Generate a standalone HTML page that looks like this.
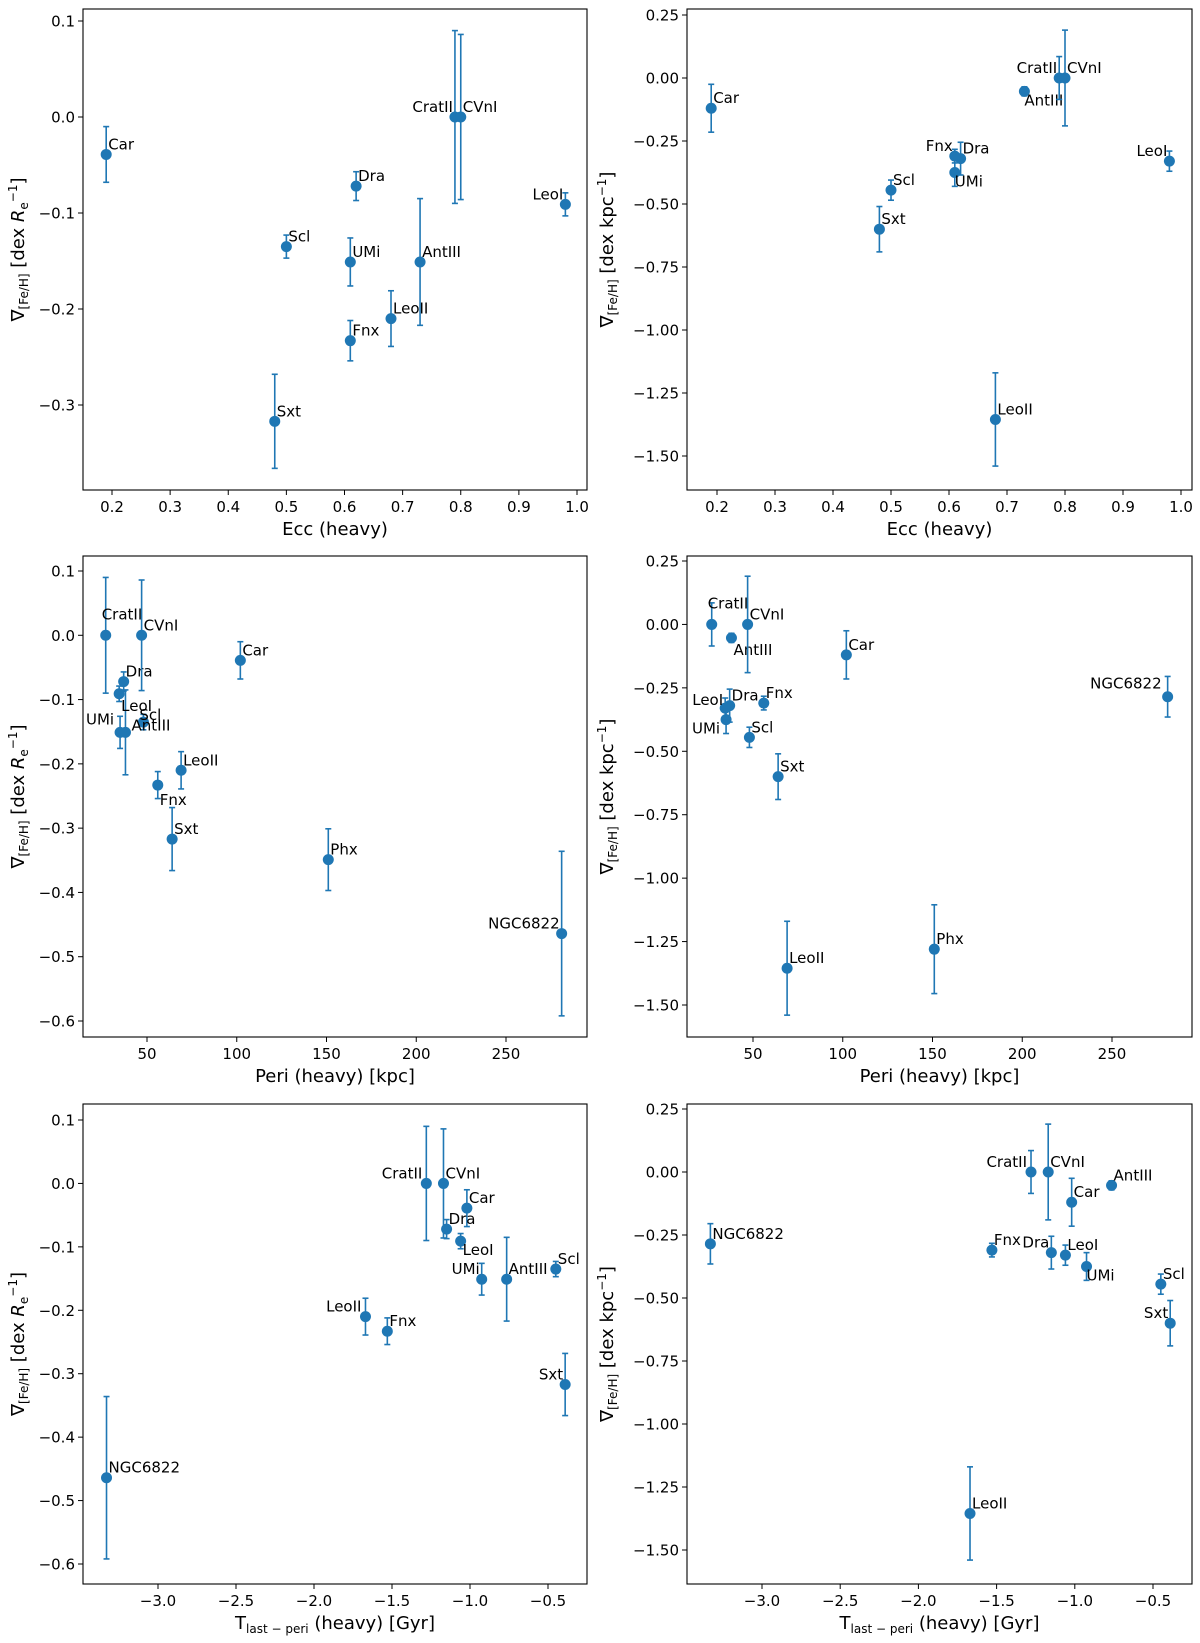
<!DOCTYPE html>
<html><head><meta charset="utf-8"><style>
html,body{margin:0;padding:0;background:#fff;}
svg{display:block;font-family:"DejaVu Sans","Liberation Sans",sans-serif;}
</style></head><body>
<svg id="fig" width="1200" height="1643" viewBox="0 0 1200 1643" xmlns="http://www.w3.org/2000/svg"></svg>
<script>
const names = ["Car","Dra","Scl","UMi","AntIII","LeoII","Fnx","Sxt","CratII","CVnI","LeoI","Phx","NGC6822"];
const ecc = [0.19,0.62,0.50,0.61,0.73,0.68,0.61,0.48,0.79,0.80,0.98,null,null];
const peri = [102,37,48,35,38,69,56,64,27,47,34.5,151,281];
const tlast = [-1.02,-1.15,-0.45,-0.925,-0.765,-1.67,-1.53,-0.39,-1.28,-1.17,-1.06,null,-3.33];
const gradRe = [-0.039,-0.072,-0.135,-0.151,-0.151,-0.210,-0.233,-0.317,0.0,0.0,-0.091,-0.349,-0.464];
const errRe = [0.029,0.015,0.012,0.025,0.066,0.029,0.021,0.049,0.090,0.086,0.012,0.048,0.128];
const gradKpc = [-0.12,-0.32,-0.445,-0.375,-0.053,-1.355,-0.31,-0.60,0.0,0.0,-0.33,-1.28,-0.285];
const errKpc = [0.095,0.065,0.04,0.055,0.018,0.185,0.027,0.09,0.085,0.19,0.04,0.175,0.08];
const eccTicks = [0.2,0.3,0.4,0.5,0.6,0.7,0.8,0.9,1.0];
const periTicks = [50,100,150,200,250];
const tTicks = [-3.0,-2.5,-2.0,-1.5,-1.0,-0.5];
const reTicks = [0.1,0.0,-0.1,-0.2,-0.3,-0.4,-0.5,-0.6];
const kpcTicks = [0.25,0.0,-0.25,-0.5,-0.75,-1.0,-1.25,-1.5];

const NS="http://www.w3.org/2000/svg";
const svg=document.getElementById('fig');
const C="#1f77b4";
function el(tag,attrs,parent){const e=document.createElementNS(NS,tag);for(const k in attrs)e.setAttribute(k,attrs[k]);(parent||svg).appendChild(e);return e;}
function lin(d0,p0,d1,p1){return v=>p0+(v-d0)*(p1-p0)/(d1-d0);}
function fmt(v,dec){const s=Math.abs(v).toFixed(dec);return (v<0?"\u2212":"")+s;}

const panels=[
 {id:"ecc-re",box:[83,9,587,490],xs:lin(0.2,112,1.0,577),ys:lin(0.1,21,-0.3,405),xv:ecc,yv:gradRe,ev:errRe,xt:eccTicks,xd:1,yt:reTicks.slice(0,5),yd:1,xl:"Ecc (heavy)",yl:"re",
  off:{CratII:[-2,-5,"end"],LeoI:[-2,-5,"end"]}},
 {id:"ecc-kpc",box:[687,9,1192,490],xs:lin(0.2,717,1.0,1181),ys:lin(0.25,15,-1.5,456),xv:ecc,yv:gradKpc,ev:errKpc,xt:eccTicks,xd:1,yt:kpcTicks,yd:2,xl:"Ecc (heavy)",yl:"kpc",
  off:{CratII:[-2,-5,"end"],LeoI:[-2,-5,"end"],Fnx:[-2,-5,"end"],AntIII:[0,14,"start"],UMi:[0,14,"start"]}},
 {id:"peri-re",box:[83,556,587,1037],xs:lin(50,147,250,506),ys:lin(0.1,571,-0.6,1021),xv:peri,yv:gradRe,ev:errRe,xt:periTicks,xd:0,yt:reTicks,yd:1,xl:"Peri (heavy) [kpc]",yl:"re",
  off:{CratII:[-4,-16,"start"],UMi:[-6,-8,"end"],LeoI:[2,17,"start"],Scl:[-4,-2,"start"],AntIII:[45,-2,"end"],Fnx:[2,20,"start"],NGC6822:[-2,-5,"end"]}},
 {id:"peri-kpc",box:[687,556,1192,1037],xs:lin(50,753,250,1112),ys:lin(0.25,561,-1.5,1005),xv:peri,yv:gradKpc,ev:errKpc,xt:periTicks,xd:0,yt:kpcTicks,yd:2,xl:"Peri (heavy) [kpc]",yl:"kpc",
  off:{CratII:[-4,-16,"start"],AntIII:[2,17,"start"],LeoI:[-2,-3,"end"],UMi:[-6,14,"end"],NGC6822:[-6,-8,"end"]}},
 {id:"tlast-re",box:[83,1104,587,1584],xs:lin(-3.0,158,-0.5,548),ys:lin(0.1,1120,-0.6,1564),xv:tlast,yv:gradRe,ev:errRe,xt:tTicks,xd:1,yt:reTicks,yd:1,xl:"tl",yl:"re",
  off:{CratII:[-4,-5,"end"],Sxt:[-2,-5,"end"],LeoII:[-4,-5,"end"],UMi:[-2,-5,"end"],LeoI:[2,14,"start"],AntIII:[2,-5,"start"]}},
 {id:"tlast-kpc",box:[687,1104,1192,1584],xs:lin(-3.0,762,-0.5,1153),ys:lin(0.25,1109,-1.5,1550),xv:tlast,yv:gradKpc,ev:errKpc,xt:tTicks,xd:1,yt:kpcTicks,yd:2,xl:"tl",yl:"kpc",
  off:{CratII:[-4,-5,"end"],Sxt:[-2,-5,"end"],Dra:[-2,-5,"end"],UMi:[0,14,"start"]}}
];

panels.forEach(p=>{
  const g=el('g',{});
  
  
  const [x0,y0,x1,y1]=p.box;
  p.xt.forEach(t=>{const x=p.xs(t);
    el('line',{x1:x,y1:y1,x2:x,y2:y1+5,stroke:"#000","stroke-width":1},g);
    const tx=el('text',{x:x,y:y1+22,"font-size":15,"text-anchor":"middle",fill:"#000"},g);tx.textContent=fmt(t,p.xd);
    });
  p.yt.forEach(t=>{const y=p.ys(t);
    el('line',{x1:x0-5,y1:y,x2:x0,y2:y,stroke:"#000","stroke-width":1},g);
    const tx=el('text',{x:x0-8,y:y+5.5,"font-size":15,"text-anchor":"end",fill:"#000"},g);tx.textContent=fmt(t,p.yd);
    });
  names.forEach((n,i)=>{
    const xv=p.xv[i];if(xv===null)return;
    const x=p.xs(xv),y=p.ys(p.yv[i]),yt=p.ys(p.yv[i]+p.ev[i]),yb=p.ys(p.yv[i]-p.ev[i]);
    const pg=el('g',{},g);
    
    
    el('line',{x1:x,y1:yt,x2:x,y2:yb,stroke:C,"stroke-width":1.6},pg);
    el('line',{x1:x-3,y1:yt,x2:x+3,y2:yt,stroke:C,"stroke-width":1.6},pg);
    el('line',{x1:x-3,y1:yb,x2:x+3,y2:yb,stroke:C,"stroke-width":1.6},pg);
    el('circle',{cx:x,cy:y,r:5.5,fill:C},pg);
    const o=(p.off&&p.off[n])||[2,-5,"start"];
    const t=el('text',{x:x+o[0],y:y+o[1],"font-size":15,"text-anchor":o[2],fill:"#000"},pg);t.textContent=n;
    
    
  });
  const fr=el('rect',{x:x0,y:y0,width:x1-x0,height:y1-y0,fill:"none",stroke:"#000","stroke-width":1.1},g);
  
  const xl=el('text',{x:(x0+x1)/2,y:y1+45,"font-size":18,"text-anchor":"middle",fill:"#000"},g);
  
  if(p.xl==="tl"){xl.innerHTML='T<tspan font-size="12" dy="4">last \u2212 peri</tspan><tspan dy="-4"> (heavy) [Gyr]</tspan>';}
  else xl.textContent=p.xl;
  const lx=x0<300?24:613, ly=(y0+y1)/2;
  const yl=el('text',{x:lx,y:ly,"font-size":18,"text-anchor":"middle",fill:"#000",transform:`rotate(-90 ${lx} ${ly})`},g);
  
  if(p.yl==="re") yl.innerHTML='\u2207<tspan font-size="12" dy="4">[Fe/H]</tspan><tspan dy="-4"> [dex </tspan><tspan font-style="italic">R</tspan><tspan font-size="12" dy="4">e</tspan><tspan font-size="12" dy="-11">\u22121</tspan><tspan dy="7">]</tspan>';
  else yl.innerHTML='\u2207<tspan font-size="12" dy="4">[Fe/H]</tspan><tspan dy="-4"> [dex kpc</tspan><tspan font-size="12" dy="-7">\u22121</tspan><tspan dy="7">]</tspan>';
});
</script>
</body></html>
